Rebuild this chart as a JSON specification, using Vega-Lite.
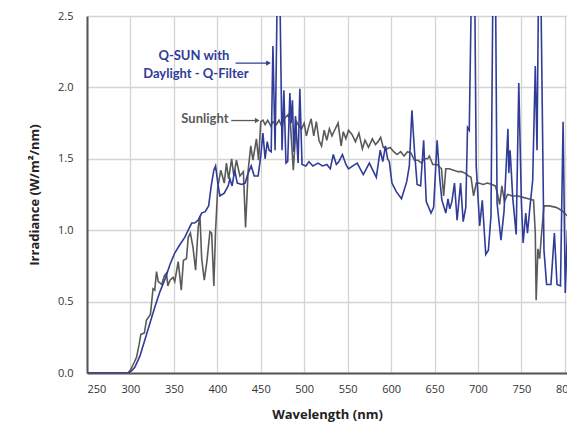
{
  "$schema": "https://vega.github.io/schema/vega-lite/v6.json",
  "width": 480,
  "height": 357,
  "autosize": "none",
  "padding": {"left": 87, "top": 16, "right": 0, "bottom": 53},
  "background": "white",
  "config": {
    "view": {"stroke": null},
    "axis": {
      "labelFont": "Open Sans",
      "labelFontSize": 11,
      "labelColor": "#333333",
      "titleFont": "Open Sans",
      "titleFontSize": 13,
      "titleFontWeight": "bold",
      "titleColor": "#222222",
      "ticks": false,
      "domainColor": "#555555",
      "domainWidth": 2,
      "grid": true,
      "gridColor": "#d4d4d4",
      "gridOpacity": 1,
      "gridWidth": 1.3
    }
  },
  "datasets": {
    "sun": [
      {"wl": 250, "irr": 0}, {"wl": 297, "irr": 0}, {"wl": 300, "irr": 0.02}, {"wl": 304, "irr": 0.07},
      {"wl": 307, "irr": 0.11}, {"wl": 310, "irr": 0.2}, {"wl": 312, "irr": 0.27}, {"wl": 316, "irr": 0.28},
      {"wl": 318.5, "irr": 0.37}, {"wl": 323, "irr": 0.41}, {"wl": 326, "irr": 0.59}, {"wl": 328, "irr": 0.58},
      {"wl": 330, "irr": 0.71}, {"wl": 332, "irr": 0.64}, {"wl": 336, "irr": 0.62}, {"wl": 339, "irr": 0.68},
      {"wl": 341.5, "irr": 0.7}, {"wl": 343, "irr": 0.61}, {"wl": 345.5, "irr": 0.65}, {"wl": 349, "irr": 0.67},
      {"wl": 351, "irr": 0.64}, {"wl": 355, "irr": 0.78}, {"wl": 358.5, "irr": 0.58}, {"wl": 361, "irr": 0.79},
      {"wl": 364.5, "irr": 0.8}, {"wl": 366.5, "irr": 0.95}, {"wl": 369, "irr": 0.98}, {"wl": 372, "irr": 0.88},
      {"wl": 375, "irr": 0.72}, {"wl": 378, "irr": 1.02}, {"wl": 380, "irr": 1.1}, {"wl": 382, "irr": 0.8},
      {"wl": 385, "irr": 0.65}, {"wl": 388, "irr": 0.78}, {"wl": 391.5, "irr": 0.99}, {"wl": 393.5, "irr": 0.98},
      {"wl": 396, "irr": 0.61}, {"wl": 398, "irr": 1.0}, {"wl": 400.5, "irr": 1.3}, {"wl": 404, "irr": 1.42},
      {"wl": 408, "irr": 1.33}, {"wl": 410.5, "irr": 1.47}, {"wl": 413, "irr": 1.36}, {"wl": 416.5, "irr": 1.5},
      {"wl": 419, "irr": 1.38}, {"wl": 422, "irr": 1.49}, {"wl": 426, "irr": 1.38}, {"wl": 430, "irr": 1.41},
      {"wl": 432.5, "irr": 1.02}, {"wl": 435.5, "irr": 1.42}, {"wl": 438.5, "irr": 1.59}, {"wl": 441, "irr": 1.49},
      {"wl": 445, "irr": 1.64}, {"wl": 447.5, "irr": 1.49}, {"wl": 450, "irr": 1.76}, {"wl": 452.5, "irr": 1.77},
      {"wl": 455, "irr": 1.74}, {"wl": 458, "irr": 1.77}, {"wl": 461.5, "irr": 1.73}, {"wl": 464, "irr": 1.76},
      {"wl": 468, "irr": 1.74}, {"wl": 471, "irr": 1.77}, {"wl": 474, "irr": 1.73}, {"wl": 477, "irr": 1.78},
      {"wl": 481.5, "irr": 1.81}, {"wl": 484, "irr": 1.76}, {"wl": 487.5, "irr": 1.42}, {"wl": 491, "irr": 1.76},
      {"wl": 494, "irr": 1.73}, {"wl": 497, "irr": 1.71}, {"wl": 500, "irr": 1.75}, {"wl": 502.5, "irr": 1.66},
      {"wl": 505, "irr": 1.72}, {"wl": 508, "irr": 1.78}, {"wl": 511, "irr": 1.66}, {"wl": 514, "irr": 1.76},
      {"wl": 517, "irr": 1.63}, {"wl": 520, "irr": 1.59}, {"wl": 523, "irr": 1.7}, {"wl": 526, "irr": 1.63},
      {"wl": 529, "irr": 1.71}, {"wl": 532, "irr": 1.66}, {"wl": 535, "irr": 1.7}, {"wl": 539, "irr": 1.75},
      {"wl": 542.5, "irr": 1.59}, {"wl": 545, "irr": 1.69}, {"wl": 548, "irr": 1.64}, {"wl": 551, "irr": 1.7},
      {"wl": 555, "irr": 1.67}, {"wl": 559, "irr": 1.62}, {"wl": 563, "irr": 1.68}, {"wl": 567, "irr": 1.57},
      {"wl": 570, "irr": 1.63}, {"wl": 574, "irr": 1.58}, {"wl": 578.5, "irr": 1.64}, {"wl": 582, "irr": 1.6},
      {"wl": 585, "irr": 1.62}, {"wl": 588, "irr": 1.65}, {"wl": 591, "irr": 1.58}, {"wl": 595.5, "irr": 1.57},
      {"wl": 599, "irr": 1.58}, {"wl": 603, "irr": 1.55}, {"wl": 607, "irr": 1.53}, {"wl": 611, "irr": 1.55},
      {"wl": 615, "irr": 1.52}, {"wl": 619, "irr": 1.55}, {"wl": 623, "irr": 1.54}, {"wl": 627, "irr": 1.49},
      {"wl": 631, "irr": 1.49}, {"wl": 635, "irr": 1.47}, {"wl": 638, "irr": 1.5}, {"wl": 642, "irr": 1.5},
      {"wl": 644, "irr": 1.52}, {"wl": 648, "irr": 1.46}, {"wl": 653, "irr": 1.46}, {"wl": 658, "irr": 1.43},
      {"wl": 660.5, "irr": 1.24}, {"wl": 663, "irr": 1.43}, {"wl": 667, "irr": 1.43}, {"wl": 672, "irr": 1.42},
      {"wl": 677, "irr": 1.41}, {"wl": 681, "irr": 1.41}, {"wl": 685, "irr": 1.4}, {"wl": 689, "irr": 1.38},
      {"wl": 692, "irr": 1.37}, {"wl": 695, "irr": 1.24}, {"wl": 698, "irr": 1.33}, {"wl": 701, "irr": 1.33},
      {"wl": 706, "irr": 1.32}, {"wl": 711, "irr": 1.33}, {"wl": 716, "irr": 1.32}, {"wl": 720, "irr": 1.31},
      {"wl": 722, "irr": 1.27}, {"wl": 725, "irr": 1.18}, {"wl": 727.5, "irr": 1.31}, {"wl": 730.5, "irr": 1.2},
      {"wl": 734, "irr": 1.25}, {"wl": 740, "irr": 1.24}, {"wl": 746, "irr": 1.24}, {"wl": 752, "irr": 1.23},
      {"wl": 758, "irr": 1.22}, {"wl": 764, "irr": 1.21}, {"wl": 766, "irr": 0.98}, {"wl": 767, "irr": 0.51},
      {"wl": 769, "irr": 0.87}, {"wl": 771, "irr": 0.8}, {"wl": 773, "irr": 0.96}, {"wl": 776, "irr": 1.17},
      {"wl": 782, "irr": 1.17}, {"wl": 790, "irr": 1.16}, {"wl": 796, "irr": 1.14}, {"wl": 803, "irr": 1.1}
    ],
    "qsun": [
      {"wl": 250, "irr": 0}, {"wl": 298, "irr": 0}, {"wl": 302, "irr": 0.02}, {"wl": 305, "irr": 0.04},
      {"wl": 308, "irr": 0.08}, {"wl": 311, "irr": 0.12}, {"wl": 314, "irr": 0.18}, {"wl": 317, "irr": 0.24},
      {"wl": 322.5, "irr": 0.35}, {"wl": 328, "irr": 0.46}, {"wl": 334, "irr": 0.57}, {"wl": 340, "irr": 0.66},
      {"wl": 345.5, "irr": 0.76}, {"wl": 351, "irr": 0.84}, {"wl": 357, "irr": 0.9}, {"wl": 362.5, "irr": 0.95},
      {"wl": 366.5, "irr": 1.0}, {"wl": 370.5, "irr": 1.05}, {"wl": 374, "irr": 1.05}, {"wl": 378, "irr": 1.07},
      {"wl": 382, "irr": 1.12}, {"wl": 386, "irr": 1.13}, {"wl": 390, "irr": 1.17}, {"wl": 393, "irr": 1.31},
      {"wl": 396, "irr": 1.42}, {"wl": 398, "irr": 1.45}, {"wl": 401, "irr": 1.31}, {"wl": 403, "irr": 1.24},
      {"wl": 408, "irr": 1.26}, {"wl": 412.5, "irr": 1.31}, {"wl": 414.5, "irr": 1.36}, {"wl": 417, "irr": 1.31},
      {"wl": 420, "irr": 1.42}, {"wl": 423, "irr": 1.33}, {"wl": 428, "irr": 1.32}, {"wl": 432, "irr": 1.33},
      {"wl": 435.5, "irr": 1.4}, {"wl": 439, "irr": 1.45}, {"wl": 442.5, "irr": 1.38}, {"wl": 447, "irr": 1.38},
      {"wl": 450, "irr": 1.52}, {"wl": 452.5, "irr": 1.68}, {"wl": 455, "irr": 1.5}, {"wl": 457.5, "irr": 1.62},
      {"wl": 459.5, "irr": 1.56}, {"wl": 462, "irr": 1.55}, {"wl": 464, "irr": 2.29}, {"wl": 466.5, "irr": 1.56},
      {"wl": 469.5, "irr": 2.9}, {"wl": 471.5, "irr": 2.9}, {"wl": 474.5, "irr": 1.56}, {"wl": 476.6, "irr": 1.98},
      {"wl": 479, "irr": 1.47}, {"wl": 481, "irr": 1.48}, {"wl": 483.5, "irr": 1.96}, {"wl": 485, "irr": 1.75},
      {"wl": 486.5, "irr": 1.91}, {"wl": 488, "irr": 1.55}, {"wl": 490, "irr": 1.8}, {"wl": 493, "irr": 1.47},
      {"wl": 495, "irr": 1.99}, {"wl": 497.5, "irr": 1.46}, {"wl": 502, "irr": 1.45}, {"wl": 505.5, "irr": 1.48},
      {"wl": 510, "irr": 1.45}, {"wl": 516, "irr": 1.47}, {"wl": 521, "irr": 1.45}, {"wl": 526, "irr": 1.46},
      {"wl": 530, "irr": 1.43}, {"wl": 533.5, "irr": 1.53}, {"wl": 537, "irr": 1.46}, {"wl": 540, "irr": 1.48},
      {"wl": 544, "irr": 1.53}, {"wl": 548, "irr": 1.46}, {"wl": 551, "irr": 1.43}, {"wl": 556, "irr": 1.45},
      {"wl": 561, "irr": 1.47}, {"wl": 568, "irr": 1.39}, {"wl": 575, "irr": 1.47}, {"wl": 583, "irr": 1.37},
      {"wl": 587.5, "irr": 1.56}, {"wl": 590.5, "irr": 1.48}, {"wl": 593.5, "irr": 1.59}, {"wl": 596, "irr": 1.5},
      {"wl": 598, "irr": 1.48}, {"wl": 601, "irr": 1.33}, {"wl": 606, "irr": 1.27}, {"wl": 612, "irr": 1.22},
      {"wl": 618, "irr": 1.34}, {"wl": 621, "irr": 1.45}, {"wl": 624, "irr": 1.84}, {"wl": 627, "irr": 1.55},
      {"wl": 630, "irr": 1.32}, {"wl": 634, "irr": 1.31}, {"wl": 637.5, "irr": 1.63}, {"wl": 640.5, "irr": 1.2},
      {"wl": 646, "irr": 1.12}, {"wl": 649, "irr": 1.16}, {"wl": 653, "irr": 1.63}, {"wl": 656, "irr": 1.36},
      {"wl": 658.5, "irr": 1.21}, {"wl": 663, "irr": 1.12}, {"wl": 665.5, "irr": 1.22}, {"wl": 667.5, "irr": 1.15},
      {"wl": 670, "irr": 1.2}, {"wl": 673, "irr": 1.33}, {"wl": 676, "irr": 1.07}, {"wl": 680, "irr": 1.33},
      {"wl": 683, "irr": 1.06}, {"wl": 686, "irr": 1.16}, {"wl": 688, "irr": 1.72}, {"wl": 690, "irr": 1.7},
      {"wl": 693, "irr": 2.9}, {"wl": 696, "irr": 2.9}, {"wl": 698, "irr": 1.45}, {"wl": 702, "irr": 1.03},
      {"wl": 705, "irr": 1.21}, {"wl": 709, "irr": 0.83}, {"wl": 712, "irr": 0.86}, {"wl": 715, "irr": 1.1},
      {"wl": 717.5, "irr": 2.9}, {"wl": 720, "irr": 2.9}, {"wl": 722, "irr": 1.19}, {"wl": 726.5, "irr": 0.93},
      {"wl": 730, "irr": 1.13}, {"wl": 734.5, "irr": 1.71}, {"wl": 735.5, "irr": 1.4}, {"wl": 737, "irr": 1.56},
      {"wl": 738.5, "irr": 1.4}, {"wl": 740, "irr": 1.23}, {"wl": 744, "irr": 0.97}, {"wl": 747, "irr": 2.03},
      {"wl": 750, "irr": 1.2}, {"wl": 752, "irr": 0.91}, {"wl": 755, "irr": 1.12}, {"wl": 757, "irr": 0.98},
      {"wl": 759.5, "irr": 1.14}, {"wl": 763, "irr": 1.35}, {"wl": 766, "irr": 2.15}, {"wl": 768, "irr": 1.56},
      {"wl": 770, "irr": 2.9}, {"wl": 772, "irr": 2.9}, {"wl": 776, "irr": 0.86}, {"wl": 779, "irr": 0.62},
      {"wl": 784, "irr": 0.62}, {"wl": 788, "irr": 0.98}, {"wl": 791, "irr": 0.62}, {"wl": 795, "irr": 0.61},
      {"wl": 798, "irr": 1.76}, {"wl": 800.5, "irr": 0.56}, {"wl": 803, "irr": 1.0}
    ],
    "notes": [
      {"wl": 373, "irr": 2.217, "label": "Q-SUN with", "grp": "Q-SUN"},
      {"wl": 375.4, "irr": 2.095, "label": "Daylight - Q-Filter", "grp": "Q-SUN"},
      {"wl": 385.7, "irr": 1.778, "label": "Sunlight", "grp": "Sunlight"}
    ],
    "arrows": [
      {"wl": 421, "wl2": 459, "irr": 2.17, "grp": "Q-SUN"},
      {"wl": 416, "wl2": 446, "irr": 1.768, "grp": "Sunlight"}
    ]
  },
  "encoding": {
    "x": {
      "field": "wl", "type": "quantitative",
      "scale": {"domain": [250, 802.5], "nice": false, "zero": false},
      "axis": {"values": [250, 300, 350, 400, 450, 500, 550, 600, 650, 700, 750, 800], "grid": true, "title": "Wavelength (nm)", "labelPadding": 10, "titlePadding": 14, "labelOverlap": false}
    },
    "y": {
      "field": "irr", "type": "quantitative",
      "scale": {"domain": [0, 2.5], "nice": false},
      "axis": {"values": [0, 0.5, 1, 1.5, 2, 2.5], "grid": true, "format": ".1f", "title": "Irradiance (W/m²/nm)", "labelPadding": 14, "titlePadding": 16}
    },
    "color": {
      "field": "grp", "type": "nominal",
      "scale": {"domain": ["Sunlight", "Q-SUN"], "range": ["#5a5a5a", "#2f3c98"]},
      "legend": null
    }
  },
  "layer": [
    {
      "data": {"name": "sun"},
      "transform": [{"calculate": "'Sunlight'", "as": "grp"}],
      "mark": {"type": "line", "clip": true, "strokeWidth": 1.6}
    },
    {
      "data": {"name": "qsun"},
      "transform": [{"calculate": "'Q-SUN'", "as": "grp"}],
      "mark": {"type": "line", "clip": true, "strokeWidth": 1.6}
    },
    {
      "data": {"name": "notes"},
      "mark": {"type": "text", "font": "Lato", "fontSize": 13, "fontWeight": "bold", "align": "center", "baseline": "middle"},
      "encoding": {"text": {"field": "label"}}
    },
    {
      "data": {"name": "arrows"},
      "mark": {"type": "rule", "strokeWidth": 1.3},
      "encoding": {"x2": {"field": "wl2"}}
    },
    {
      "data": {"name": "arrows"},
      "mark": {"type": "point", "shape": "triangle-right", "filled": true, "size": 30, "opacity": 1},
      "encoding": {"x": {"field": "wl2", "type": "quantitative"}}
    }
  ]
}
